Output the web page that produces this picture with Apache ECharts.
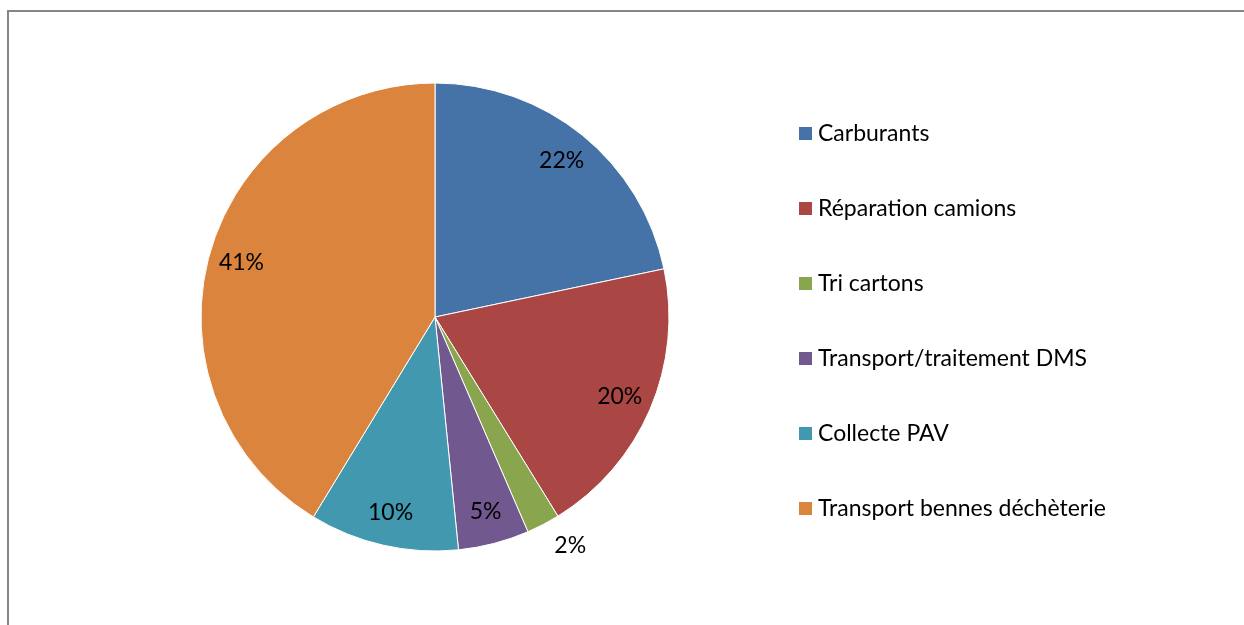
<!DOCTYPE html>
<html>
<head>
<meta charset="utf-8">
<script src="https://cdn.jsdelivr.net/npm/echarts@6/dist/echarts.min.js"></script>
<style>
  body { margin: 0; background: #fff; }
  #frame { position: absolute; left: 7px; top: 10px; width: 1300px; height: 700px;
           border-left: 2px solid #868686; border-top: 2px solid #868686; pointer-events: none; }
</style>
</head>
<body>
<div id="myChart" style="width:1244px;height:625px"></div>
<div id="frame"></div>
<script>
// slice shares (percent)
const categories = ['Carburants', 'Réparation camions', 'Tri cartons',
  'Transport/traitement DMS', 'Collecte PAV', 'Transport bennes déchèterie'];
const values = [21.7, 19.5, 2.3, 4.9, 10.3, 41.3];
const colors = ['#4572A7', '#AA4643', '#89A54E', '#71588F', '#4198AF', '#DB843D'];

const font = 'Lato';
var chartDom = document.getElementById('myChart');
var myChart = echarts.init(chartDom);

const pieData = categories.map((c, i) => ({ name: c, value: values[i] }));
// label layer: same slices, transparent, labels sit near the outer edge
const labelData = categories.map((c, i) => {
  let item = { name: c, value: values[i] };
  if (c === 'Tri cartons') {
    item.label = { position: 'outside', distanceToLabelLine: 0 };
    item.labelLine = { show: false, length: 24, length2: 0 };
  }
  return item;
});

var option = {
  animation: false,
  color: colors,
  legend: {
    orient: 'vertical',
    left: 792,
    top: 117,
    itemWidth: 15,
    itemHeight: 15,
    itemGap: 52,
    icon: 'rect',
    textStyle: { fontFamily: font, fontSize: 23, color: '#000', padding: [0, 0, 0, 0] },
    data: categories
  },
  series: [
    {
      type: 'pie',
      center: [435, 317],
      radius: [0, 234],
      startAngle: 90,
      label: { show: false },
      labelLine: { show: false },
      itemStyle: { borderColor: '#fff', borderWidth: 1 },
      emphasis: { disabled: true },
      data: pieData
    },
    {
      type: 'pie',
      center: [435, 317],
      radius: [162, 234],
      startAngle: 90,
      silent: true,
      avoidLabelOverlap: false,
      percentPrecision: 0,
      itemStyle: { color: 'transparent' },
      label: {
        show: true,
        position: 'inside',
        formatter: '{d}%',
        fontFamily: font,
        fontSize: 23,
        color: '#000'
      },
      labelLine: { show: false },
      emphasis: { disabled: true },
      data: labelData
    }
  ]
};
option && myChart.setOption(option);
</script>
</body>
</html>
